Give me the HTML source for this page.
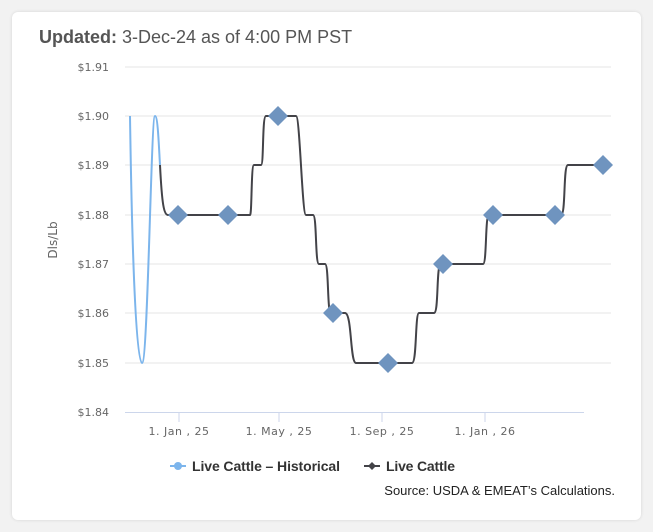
<!DOCTYPE html>
<html><head><style>
body{margin:0;background:#f2f2f2;width:653px;height:532px;overflow:hidden;font-family:"Liberation Sans",sans-serif}
.card{position:absolute;left:12px;top:12px;width:629px;height:508px;background:#fff;border-radius:6px;box-shadow:0 0 3px rgba(0,0,0,.12)}
</style></head><body>
<div class="card"></div>
<svg width="653" height="532" style="position:absolute;left:0;top:0" font-family="DejaVu Sans, sans-serif">
<text x="39" y="43" font-family="Liberation Sans" font-size="18" fill="#555"><tspan font-weight="bold">Updated:</tspan> 3-Dec-24 as of 4:00 PM PST</text>
<g stroke="#e6e6e6" stroke-width="1">
<line x1="125" x2="611" y1="67" y2="67"/><line x1="125" x2="611" y1="116" y2="116"/><line x1="125" x2="611" y1="165" y2="165"/><line x1="125" x2="611" y1="215" y2="215"/><line x1="125" x2="611" y1="264" y2="264"/><line x1="125" x2="611" y1="313" y2="313"/><line x1="125" x2="611" y1="363" y2="363"/>
</g>
<line x1="125" x2="584" y1="412.5" y2="412.5" stroke="#ccd6eb"/>
<g stroke="#ccd6eb"><line x1="179" x2="179" y1="412" y2="422"/><line x1="279" x2="279" y1="412" y2="422"/><line x1="382" x2="382" y1="412" y2="422"/><line x1="485" x2="485" y1="412" y2="422"/></g>
<g font-size="11" fill="#666" text-anchor="end">
<text x="109" y="71">$1.91</text><text x="109" y="120">$1.90</text><text x="109" y="169">$1.89</text><text x="109" y="219">$1.88</text><text x="109" y="268">$1.87</text><text x="109" y="317">$1.86</text><text x="109" y="367">$1.85</text><text x="109" y="416">$1.84</text>
</g>
<g font-size="11" fill="#666" text-anchor="middle" letter-spacing="0.5">
<text x="179" y="435">1. Jan , 25</text><text x="279" y="435">1. May , 25</text><text x="382" y="435">1. Sep , 25</text><text x="485" y="435">1. Jan , 26</text>
</g>
<text transform="translate(57,240) rotate(-90)" font-size="12" fill="#666" text-anchor="middle">Dls/Lb</text>
<path d="M130,116 C132,250 136,363 142,363 C148,363 151,116 155,116 C158,116 159,150 160,165" fill="none" stroke="#7cb5ec" stroke-width="2"/>
<path d="M160,165 C162,205 164,215 168,215 L250,215 C252,215 251,165 254,165 L261,165 C264,165 262,116 266,116 L296,116 C300,116 302,215 306,215 L313,215 C317,215 315,264 319,264 L325,264 C329,264 327,313 331,313 L345,313 C352,313 350,363 356,363 L412,363 C417,363 415,313 419,313 L434,313 C439,313 436,264 441,264 L483,264 C487,264 485,215 489,215 L561,215 C566,215 563,165 568,165 L603,165" fill="none" stroke="#434348" stroke-width="2"/>
<g fill="#6f94bf">
<path d="M178,205l10,10l-10,10l-10,-10z"/><path d="M228,205l10,10l-10,10l-10,-10z"/><path d="M278,106l10,10l-10,10l-10,-10z"/><path d="M333,303l10,10l-10,10l-10,-10z"/><path d="M388,353l10,10l-10,10l-10,-10z"/><path d="M443,254l10,10l-10,10l-10,-10z"/><path d="M493,205l10,10l-10,10l-10,-10z"/><path d="M555,205l10,10l-10,10l-10,-10z"/><path d="M603,155l10,10l-10,10l-10,-10z"/>
</g>
<line x1="170" x2="186" y1="466" y2="466" stroke="#7cb5ec" stroke-width="2"/><circle cx="178" cy="466" r="4" fill="#7cb5ec"/>
<text x="192" y="471" font-family="Liberation Sans" font-size="14" font-weight="bold" fill="#333" textLength="148">Live Cattle – Historical</text>
<line x1="364" x2="380" y1="466" y2="466" stroke="#434348" stroke-width="2"/><path d="M372,462l4,4l-4,4l-4,-4z" fill="#434348"/>
<text x="386" y="471" font-family="Liberation Sans" font-size="14" font-weight="bold" fill="#333" textLength="69">Live Cattle</text>
<text x="615" y="495" font-family="Liberation Sans" font-size="13" fill="#222" text-anchor="end">Source: USDA &amp; EMEAT’s Calculations.</text>
</svg>
</body></html>
